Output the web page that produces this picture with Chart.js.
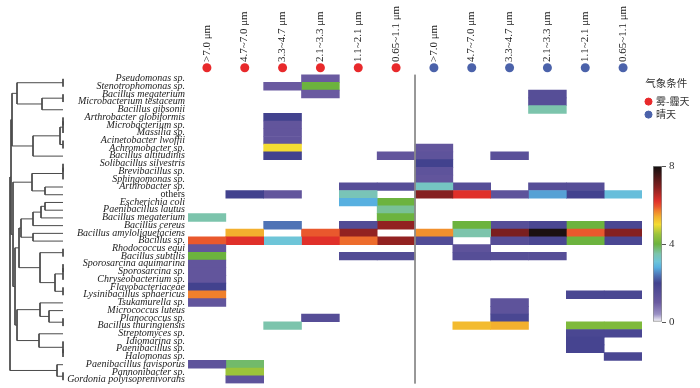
<!DOCTYPE html>
<html>
<head>
<meta charset="utf-8">
<script src="https://cdn.jsdelivr.net/npm/chart.js@4.4.1/dist/chart.umd.min.js"></script>
<style>
    body { margin: 0; background: #fff; }
    #wrap { position: relative; width: 700px; height: 388px; }
    canvas { position: absolute; }
</style>
</head>
<body>
<div id="wrap">
    <canvas id="heat" style="left:0px;top:0px" width="700" height="388"></canvas>
    <canvas id="tree" style="left:0px;top:0px" width="66" height="388"></canvas>
    <canvas id="legend" style="left:643px;top:78px" width="57" height="60"></canvas>
    <canvas id="scale" style="left:640px;top:150px" width="60" height="190"></canvas>
</div>
<script>
// filas (especies), de arriba abajo
const species = [
    'Pseudomonas sp.', 'Stenotrophomonas sp.', 'Bacillus megaterium', 'Microbacterium testaceum',
    'Bacillus gibsonii', 'Arthrobacter globiformis', 'Microbacterium sp.', 'Massilia sp.',
    'Acinetobacter lwoffii', 'Achromobacter sp.', 'Bacillus altitudinis', 'Solibacillus silvestris',
    'Brevibacillus sp.', 'Sphingomonas sp.', 'Arthrobacter sp.', 'others',
    'Escherichia coli', 'Paenibacillus lautus', 'Bacillus megaterium', 'Bacillus cereus',
    'Bacillus amyloliquefaciens', 'Bacillus sp.', 'Rhodococcus equi', 'Bacillus subtilis',
    'Sporosarcina aquimarina', 'Sporosarcina sp.', 'Chryseobacterium sp.', 'Flavobacteriaceae',
    'Lysinibacillus sphaericus', 'Tsukamurella sp.', 'Micrococcus luteus', 'Planococcus sp.',
    'Bacillus thuringiensis', 'Streptomyces sp.', 'Idiomarina sp.', 'Paenibacillus sp.',
    'Halomonas sp.', 'Paenibacillus favisporus', 'Pannonibacter sp.', 'Gordonia polyisoprenivorans'
];

const sizeLabels = ['>7.0 μm', '4.7~7.0 μm', '3.3~4.7 μm', '2.1~3.3 μm', '1.1~2.1 μm', '0.65~1.1 μm'];
const conditions = ['雾-霾天', '晴天'];
const conditionColors = ['#e8292b', '#4b62aa'];

// valores por fila, 6 tamaños cada uno (0 = sin dato)
const hazeValues = [
    [0, 0, 0, 1.0, 0, 0],
    [0, 0, 1.0, 4.0, 0, 0],
    [0, 0, 0, 1.0, 0, 0],
    [0, 0, 0, 0, 0, 0],
    [0, 0, 0, 0, 0, 0],
    [0, 0, 2.0, 0, 0, 0],
    [0, 0, 1.2, 0, 0, 0],
    [0, 0, 1.2, 0, 0, 0],
    [0, 0, 1.2, 0, 0, 0],
    [0, 0, 5.0, 0, 0, 0],
    [0, 0, 2.0, 0, 0, 1.2],
    [0, 0, 0, 0, 0, 0],
    [0, 0, 0, 0, 0, 0],
    [0, 0, 0, 0, 0, 0],
    [0, 0, 0, 0, 1.5, 1.5],
    [0, 2.0, 1.2, 0, 3.4, 0],
    [0, 0, 0, 0, 2.8, 4.0],
    [0, 0, 0, 0, 0, 3.6],
    [3.5, 0, 0, 0, 0, 4.0],
    [0, 0, 2.4, 0, 1.6, 6.8],
    [0, 5.4, 0, 5.9, 6.8, 0],
    [5.9, 6.2, 3.1, 6.2, 5.8, 6.8],
    [1.2, 0, 0, 0, 0, 0],
    [4.0, 0, 0, 0, 1.6, 1.6],
    [1.2, 0, 0, 0, 0, 0],
    [1.2, 0, 0, 0, 0, 0],
    [1.2, 0, 0, 0, 0, 0],
    [2.0, 0, 0, 0, 0, 0],
    [5.7, 0, 0, 0, 0, 0],
    [1.2, 0, 0, 0, 0, 0],
    [0, 0, 0, 0, 0, 0],
    [0, 0, 0, 1.5, 0, 0],
    [0, 0, 3.5, 0, 0, 0],
    [0, 0, 0, 0, 0, 0],
    [0, 0, 0, 0, 0, 0],
    [0, 0, 0, 0, 0, 0],
    [0, 0, 0, 0, 0, 0],
    [1.3, 3.8, 0, 0, 0, 0],
    [0, 4.5, 0, 0, 0, 0],
    [0, 1.3, 0, 0, 0, 0]
];

const sunnyValues = [
    [0, 0, 0, 0, 0, 0],
    [0, 0, 0, 0, 0, 0],
    [0, 0, 0, 1.5, 0, 0],
    [0, 0, 0, 1.5, 0, 0],
    [0, 0, 0, 3.5, 0, 0],
    [0, 0, 0, 0, 0, 0],
    [0, 0, 0, 0, 0, 0],
    [0, 0, 0, 0, 0, 0],
    [0, 0, 0, 0, 0, 0],
    [1.2, 0, 0, 0, 0, 0],
    [1.3, 0, 1.4, 0, 0, 0],
    [2.0, 0, 0, 0, 0, 0],
    [1.3, 0, 0, 0, 0, 0],
    [1.2, 0, 0, 0, 0, 0],
    [3.3, 1.5, 0, 1.5, 1.5, 0],
    [6.9, 6.2, 1.3, 2.7, 2.0, 3.0],
    [0, 0, 0, 0, 0, 0],
    [0, 0, 0, 0, 0, 0],
    [0, 0, 0, 0, 0, 0],
    [0, 4.0, 1.5, 1.8, 4.0, 1.8],
    [5.6, 3.5, 7.0, 7.9, 5.9, 6.9],
    [1.6, 0, 1.5, 1.8, 4.0, 1.8],
    [0, 1.3, 0, 0, 0, 0],
    [0, 1.5, 1.5, 1.5, 0, 0],
    [0, 0, 0, 0, 0, 0],
    [0, 0, 0, 0, 0, 0],
    [0, 0, 0, 0, 0, 0],
    [0, 0, 0, 0, 0, 0],
    [0, 0, 0, 0, 1.8, 1.8],
    [0, 0, 1.3, 0, 0, 0],
    [0, 0, 1.3, 0, 0, 0],
    [0, 0, 1.8, 0, 0, 0],
    [0, 5.3, 5.4, 0, 4.2, 4.2],
    [0, 0, 0, 0, 1.8, 1.8],
    [0, 0, 0, 0, 1.9, 0],
    [0, 0, 0, 0, 1.9, 0],
    [0, 0, 0, 0, 0, 1.8],
    [0, 0, 0, 0, 0, 0],
    [0, 0, 0, 0, 0, 0],
    [0, 0, 0, 0, 0, 0]
];

const colorbarTicks = [0, 4, 8];

// dendrograma: hojas = índice de fila, nodos = altura de unión
const node = (h, a, b) => ({ h, a, b });
const treeRoot = node(53,
    node(52,
        node(51,
            node(46, node(0, 0, 1), node(21, node(0, 2, 3), 4)),
            node(30, node(3, node(0, node(0, 5, 6), 7), node(0, 8, 9)), 10)),
        node(50,
            node(31, node(0, node(0, 11, 12), 13), node(18, 14, 15)),
            node(48,
                node(44,
                    node(42, node(30, node(22, node(18, 16, 17), 18), 19), node(30, 20, 21)),
                    node(23, node(0, 22, 23), node(8, node(0, node(0, 24, 25), 26), node(0, 27, 28)))),
                node(46,
                    node(23, 29, node(14, 30, node(0, 31, 32))),
                    node(24, 33, node(0, 34, node(0, 35, 36))))))),
    node(6, 37, node(0, 38, 39)));

// escala de color
const colorStops = [
    [0, '#ffffff'], [0.4, '#9a90c4'], [1.0, '#6a5aa0'], [2.0, '#42428e'],
    [2.4, '#4f73b5'], [2.8, '#58b0e0'], [3.1, '#6ec5d8'], [3.5, '#7cc4ac'],
    [4.0, '#6cb33e'], [4.5, '#9cc43a'], [5.0, '#f4dc32'], [5.4, '#f3b02e'],
    [5.7, '#f0802c'], [5.9, '#e9582d'], [6.2, '#e0302a'], [6.9, '#852020'],
    [8.0, '#101010']
];

const serif = 'Liberation Serif';
const cjk = 'Noto Sans CJK SC';

document.addEventListener('DOMContentLoaded', function () {

    const hexToRgb = (hex) => [1, 3, 5].map(i => parseInt(hex.substr(i, 2), 16));

    function valueColor(v) {
        for (let i = 1; i < colorStops.length; i++) {
            const [v0, c0] = colorStops[i - 1];
            const [v1, c1] = colorStops[i];
            if (v <= v1) {
                const t = (v - v0) / (v1 - v0);
                const a = hexToRgb(c0), b = hexToRgb(c1);
                const rgb = a.map((x, k) => Math.round(x + (b[k] - x) * t));
                return `rgb(${rgb.join(',')})`;
            }
        }
        return colorStops[colorStops.length - 1][1];
    }

    const columnLabels = sizeLabels.concat(sizeLabels);
    const rows = species.map((_, r) => hazeValues[r].concat(sunnyValues[r]));
    // una fila vacía arriba para los puntos de condición
    const yLabels = [''].concat(species);
    const dotRow = -0.9;

    const datasets = [];

    // línea que separa los dos grupos
    datasets.push({
        type: 'scatter',
        data: [{ x: sizeLabels.length, y: 0 }, { x: sizeLabels.length, y: species.length }],
        showLine: true,
        borderColor: '#8a8a8a',
        borderWidth: 1,
        pointRadius: 0,
        xAxisID: 'x',
        yAxisID: 'yr',
        clip: false
    });

    // puntos de condición meteorológica
    conditions.forEach((label, g) => {
        datasets.push({
            type: 'scatter',
            label: label,
            data: sizeLabels.map((_, i) => ({ x: g * sizeLabels.length + i + 0.5, y: dotRow })),
            backgroundColor: conditionColors[g],
            borderWidth: 0,
            pointRadius: 4.5,
            xAxisID: 'x',
            yAxisID: 'yr',
            clip: false
        });
    });

    // una serie de barras flotantes por columna
    columnLabels.forEach((label, c) => {
        datasets.push({
            type: 'bar',
            label: label,
            indexAxis: 'y',
            grouped: false,
            barPercentage: 1,
            categoryPercentage: 1,
            data: [null].concat(rows.map(v => v[c] > 0 ? [c, c + 1] : null)),
            backgroundColor: ['#ffffff'].concat(rows.map(v => valueColor(v[c]))),
            borderWidth: 0,
            xAxisID: 'x',
            yAxisID: 'y'
        });
    });

    new Chart(document.getElementById('heat'), {
        type: 'bar',
        data: { labels: yLabels, datasets: datasets },
        options: {
            indexAxis: 'y',
            responsive: false,
            animation: false,
            events: [],
            layout: { padding: { left: 0, right: 58, top: 0, bottom: 4 } },
            plugins: { legend: { display: false }, tooltip: { enabled: false } },
            scales: {
                x: {
                    type: 'linear',
                    position: 'top',
                    offset: false,
                    min: 0,
                    max: columnLabels.length,
                    grid: { display: false, drawTicks: false, offset: false },
                    border: { display: false },
                    afterBuildTicks: (axis) => {
                        axis.ticks = columnLabels.map((_, i) => ({ value: i + 0.5 }));
                    },
                    afterFit: (axis) => {
                        axis.height = 67;
                        axis.paddingLeft = 0;
                        axis.paddingRight = 0;
                    },
                    ticks: {
                        autoSkip: false,
                        minRotation: 90,
                        maxRotation: 90,
                        padding: 5,
                        labelOffset: 13,
                        color: '#222',
                        font: { family: serif, size: 11 },
                        callback: (value, index) => columnLabels[index]
                    }
                },
                y: {
                    type: 'category',
                    position: 'left',
                    offset: true,
                    grid: { display: false, drawTicks: false },
                    border: { display: false },
                    afterFit: (axis) => {
                        axis.width = 188;
                        axis.paddingTop = 0;
                        axis.paddingBottom = 0;
                    },
                    ticks: {
                        autoSkip: false,
                        padding: 3,
                        color: '#222',
                        font: (ctx) => ({
                            family: serif,
                            size: 10,
                            style: yLabels[ctx.index] === 'others' ? 'normal' : 'italic'
                        })
                    }
                },
                yr: {
                    type: 'linear',
                    axis: 'y',
                    position: 'left',
                    display: false,
                    offset: false,
                    min: -1,
                    max: species.length,
                    reverse: true
                }
            }
        }
    });

    // segmentos del dendrograma
    const links = [];
    function place(t) {
        if (typeof t === 'number') return { h: 0, y: t + 0.5 };
        const l = place(t.a), r = place(t.b);
        links.push([{ x: l.h, y: l.y }, { x: t.h, y: l.y }, { x: t.h, y: r.y }, { x: r.h, y: r.y }]);
        return { h: t.h, y: (l.y + r.y) / 2 };
    }
    place(treeRoot);

    new Chart(document.getElementById('tree'), {
        type: 'scatter',
        data: {
            datasets: links.map(pts => ({
                data: pts,
                showLine: true,
                borderColor: '#4a4a4a',
                borderWidth: 1,
                pointRadius: 0,
                clip: false
            }))
        },
        options: {
            responsive: false,
            animation: false,
            events: [],
            layout: { padding: { left: 8, right: 3, top: 75, bottom: 4 } },
            plugins: { legend: { display: false }, tooltip: { enabled: false } },
            scales: {
                x: { type: 'linear', display: false, min: 0, max: 55, reverse: true },
                y: { type: 'linear', display: false, min: 0, max: species.length, reverse: true }
            }
        }
    });

    // leyenda de condiciones
    new Chart(document.getElementById('legend'), {
        type: 'scatter',
        data: {
            datasets: conditions.map((label, i) => ({
                label: label,
                data: [],
                backgroundColor: conditionColors[i],
                borderColor: conditionColors[i],
                pointStyle: 'circle'
            }))
        },
        options: {
            responsive: false,
            animation: false,
            events: [],
            plugins: {
                legend: {
                    position: 'top',
                    align: 'start',
                    maxHeight: 60,
                    title: {
                        display: true,
                        text: '气象条件',
                        color: '#333',
                        padding: { top: 0, bottom: 3 },
                        font: { family: cjk, size: 10.5 }
                    },
                    labels: {
                        usePointStyle: true,
                        boxWidth: 5,
                        boxHeight: 5,
                        padding: 3,
                        color: '#333',
                        font: { family: cjk, size: 10 }
                    }
                },
                tooltip: { enabled: false }
            },
            scales: { x: { display: false }, y: { display: false } }
        }
    });

    // barra de color
    const cbMin = colorbarTicks[0];
    const cbMax = colorbarTicks[colorbarTicks.length - 1];
    new Chart(document.getElementById('scale'), {
        type: 'bar',
        data: {
            labels: [''],
            datasets: [{
                data: [[cbMin, cbMax]],
                backgroundColor: (ctx) => {
                    const chart = ctx.chart;
                    if (!chart.chartArea) return '#ffffff';
                    const s = chart.scales.y;
                    const g = chart.ctx.createLinearGradient(0, s.getPixelForValue(cbMin), 0, s.getPixelForValue(cbMax));
                    colorStops.forEach(([v, col]) => g.addColorStop((v - cbMin) / (cbMax - cbMin), col));
                    return g;
                },
                borderColor: '#8c8c8c',
                borderWidth: 1,
                borderSkipped: false,
                barPercentage: 1,
                categoryPercentage: 1
            }]
        },
        options: {
            responsive: false,
            animation: false,
            events: [],
            layout: { padding: { left: 13, right: 8, top: 16, bottom: 18 } },
            plugins: { legend: { display: false }, tooltip: { enabled: false } },
            scales: {
                x: { display: false },
                y: {
                    position: 'right',
                    min: cbMin,
                    max: cbMax,
                    afterBuildTicks: (axis) => {
                        axis.ticks = colorbarTicks.map(v => ({ value: v }));
                    },
                    afterFit: (axis) => { axis.width = 30; },
                    grid: { drawOnChartArea: false, drawTicks: true, tickLength: 4, color: '#555' },
                    border: { display: false },
                    ticks: { padding: 3, color: '#333', font: { family: serif, size: 11 } }
                }
            }
        }
    });

});
</script>
</body>
</html>
